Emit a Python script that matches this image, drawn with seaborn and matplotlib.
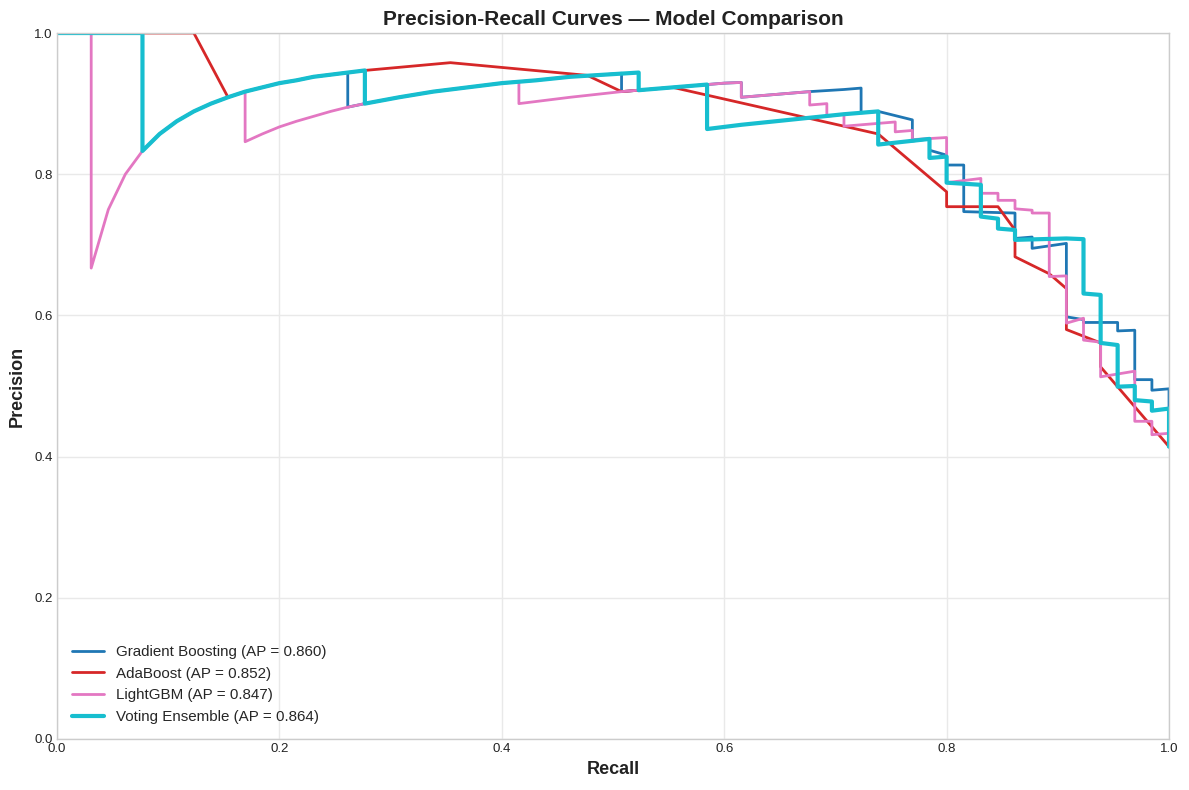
import numpy as np
import pandas as pd
import matplotlib
matplotlib.use("Agg")
import matplotlib.pyplot as plt
import seaborn as sns

# ---------------- data ----------------
models = ["Gradient Boosting", "AdaBoost", "LightGBM", "Voting Ensemble"]
ap_scores = [0.860, 0.852, 0.847, 0.864]

gb_recall = [0.0, 0.0769, 0.0769, 0.0923, 0.1077, 0.1231, 0.1385, 0.1538, 0.1692, 0.1846,
             0.2000, 0.2154, 0.2308, 0.2462, 0.2615, 0.2615, 0.2769, 0.3077, 0.3385, 0.3692,
             0.4000, 0.4308, 0.4615, 0.4923, 0.5077, 0.5077, 0.5385, 0.5692, 0.6000, 0.6154,
             0.6154, 0.6462, 0.6769, 0.7077, 0.7231, 0.7231, 0.7385, 0.7692, 0.7692, 0.7846,
             0.7846, 0.8000, 0.8000, 0.8154, 0.8154, 0.8615, 0.8615, 0.8769, 0.8769, 0.9077,
             0.9077, 0.9231, 0.9231, 0.9538, 0.9538, 0.9692, 0.9692, 0.9846, 0.9846, 1.0, 1.0]
gb_precision = [1.0, 1.0, 0.833, 0.857, 0.875, 0.889, 0.900, 0.909, 0.917, 0.923,
                0.929, 0.933, 0.938, 0.941, 0.944, 0.895, 0.900, 0.909, 0.917, 0.923,
                0.929, 0.933, 0.938, 0.941, 0.943, 0.917, 0.921, 0.925, 0.929, 0.930,
                0.909, 0.913, 0.917, 0.920, 0.922, 0.887, 0.889, 0.877, 0.847, 0.850,
                0.834, 0.827, 0.813, 0.813, 0.747, 0.745, 0.709, 0.711, 0.695, 0.702,
                0.598, 0.594, 0.590, 0.590, 0.578, 0.579, 0.509, 0.509, 0.494, 0.496, 0.414]

ada_recall = [0.0, 0.1231, 0.1538, 0.1692, 0.1846, 0.2000, 0.2154, 0.2308, 0.2462, 0.2615,
              0.2769, 0.3538, 0.4769, 0.5077, 0.5538, 0.7385, 0.8000, 0.8000, 0.8462, 0.8615,
              0.8615, 0.8923, 0.9077, 0.9077, 0.9385, 0.9385, 1.0]
ada_precision = [1.0, 1.0, 0.909, 0.917, 0.923, 0.929, 0.933, 0.938, 0.941, 0.944,
                 0.947, 0.958, 0.940, 0.917, 0.923, 0.857, 0.775, 0.754, 0.754, 0.721,
                 0.683, 0.659, 0.638, 0.580, 0.561, 0.527, 0.414]

lgbm_recall = [0.0, 0.0308, 0.0308, 0.0462, 0.0615, 0.0769, 0.0923, 0.1077, 0.1231, 0.1385,
               0.1538, 0.1692, 0.1692, 0.1846, 0.2000, 0.2154, 0.2308, 0.2462, 0.2615, 0.2769,
               0.3077, 0.3385, 0.3692, 0.4000, 0.4154, 0.4154, 0.4308, 0.4615, 0.5077, 0.5385,
               0.5692, 0.6000, 0.6154, 0.6154, 0.6462, 0.6769, 0.6769, 0.6923, 0.6923, 0.7077,
               0.7077, 0.7538, 0.7538, 0.7692, 0.7692, 0.8000, 0.8000, 0.8308, 0.8308, 0.8462,
               0.8462, 0.8615, 0.8615, 0.8769, 0.8769, 0.8923, 0.8923, 0.9077, 0.9077, 0.9231,
               0.9231, 0.9385, 0.9385, 0.9692, 0.9692, 0.9846, 0.9846, 1.0, 1.0]
lgbm_precision = [1.0, 1.0, 0.667, 0.750, 0.800, 0.833, 0.857, 0.875, 0.889, 0.900,
                  0.909, 0.917, 0.846, 0.857, 0.867, 0.875, 0.882, 0.889, 0.895, 0.900,
                  0.909, 0.917, 0.923, 0.929, 0.931, 0.900, 0.903, 0.909, 0.917, 0.921,
                  0.925, 0.929, 0.930, 0.909, 0.913, 0.917, 0.898, 0.900, 0.882, 0.885,
                  0.868, 0.874, 0.860, 0.862, 0.849, 0.852, 0.788, 0.794, 0.773, 0.773,
                  0.763, 0.763, 0.751, 0.749, 0.745, 0.745, 0.655, 0.656, 0.589, 0.596,
                  0.565, 0.562, 0.513, 0.521, 0.450, 0.450, 0.431, 0.433, 0.414]

vote_recall = [0.0, 0.0769, 0.0769, 0.0923, 0.1077, 0.1231, 0.1385, 0.1538, 0.1692, 0.1846,
               0.2000, 0.2154, 0.2308, 0.2462, 0.2615, 0.2769, 0.2769, 0.3077, 0.3385, 0.3692,
               0.4000, 0.4308, 0.4615, 0.4923, 0.5231, 0.5231, 0.5538, 0.5846, 0.5846, 0.6154,
               0.6462, 0.6769, 0.7077, 0.7385, 0.7385, 0.7846, 0.7846, 0.8000, 0.8000, 0.8308,
               0.8308, 0.8462, 0.8462, 0.8615, 0.8615, 0.9077, 0.9231, 0.9231, 0.9385, 0.9385,
               0.9538, 0.9538, 0.9692, 0.9692, 0.9846, 0.9846, 1.0, 1.0]
vote_precision = [1.0, 1.0, 0.833, 0.857, 0.875, 0.889, 0.900, 0.909, 0.917, 0.923,
                  0.929, 0.933, 0.938, 0.941, 0.944, 0.947, 0.900, 0.909, 0.917, 0.923,
                  0.929, 0.933, 0.938, 0.941, 0.944, 0.919, 0.923, 0.927, 0.864, 0.870,
                  0.875, 0.880, 0.885, 0.889, 0.842, 0.850, 0.823, 0.825, 0.788, 0.785,
                  0.740, 0.737, 0.723, 0.721, 0.707, 0.709, 0.708, 0.631, 0.629, 0.561,
                  0.558, 0.499, 0.500, 0.480, 0.478, 0.465, 0.468, 0.414]

colors = ["#1f77b4", "#d62728", "#e377c2", "#17becf"]
widths = [2.0, 2.0, 2.0, 3.0]

# ---------------- style ----------------
sns.set_theme(style="whitegrid")
plt.rcParams["font.family"] = ["Liberation Sans", "DejaVu Sans"]
plt.rcParams["axes.edgecolor"] = "#cccccc"
plt.rcParams["grid.color"] = "#e9e9e9"

fig, ax = plt.subplots(figsize=(11.89, 7.90), dpi=100)
fig.subplots_adjust(left=0.0479, right=0.9832, top=0.9582, bottom=0.0646)

series = [(gb_recall, gb_precision), (ada_recall, ada_precision),
          (lgbm_recall, lgbm_precision), (vote_recall, vote_precision)]

for (rec, prec), name, ap, col, lw in zip(series, models, ap_scores, colors, widths):
    df = pd.DataFrame({"Recall": rec, "Precision": prec})
    sns.lineplot(data=df, x="Recall", y="Precision", sort=False, estimator=None,
                 color=col, linewidth=lw, ax=ax,
                 label=f"{name} (AP = {ap:.3f})")

ax.set_xlim(0, 1)
ax.set_ylim(0, 1)
ax.set_xticks([0.0, 0.2, 0.4, 0.6, 0.8, 1.0])
ax.set_yticks([0.0, 0.2, 0.4, 0.6, 0.8, 1.0])
ax.tick_params(axis="both", which="major", labelsize=9.5, colors="#222222",
               pad=3, length=0)
ax.set_xlabel("Recall", fontsize=13, fontweight="bold", color="#222222", labelpad=4)
ax.set_ylabel("Precision", fontsize=13, fontweight="bold", color="#222222", labelpad=6)
ax.set_title("Precision-Recall Curves — Model Comparison", fontsize=15,
             fontweight="bold", color="#222222", pad=6)
for sp in ax.spines.values():
    sp.set_color("#cccccc")
    sp.set_linewidth(1.0)

ax.legend(loc="lower left", frameon=False, fontsize=10.9, handlelength=2.1,
          borderaxespad=0.6)

fig.savefig("out.png", dpi=100)
